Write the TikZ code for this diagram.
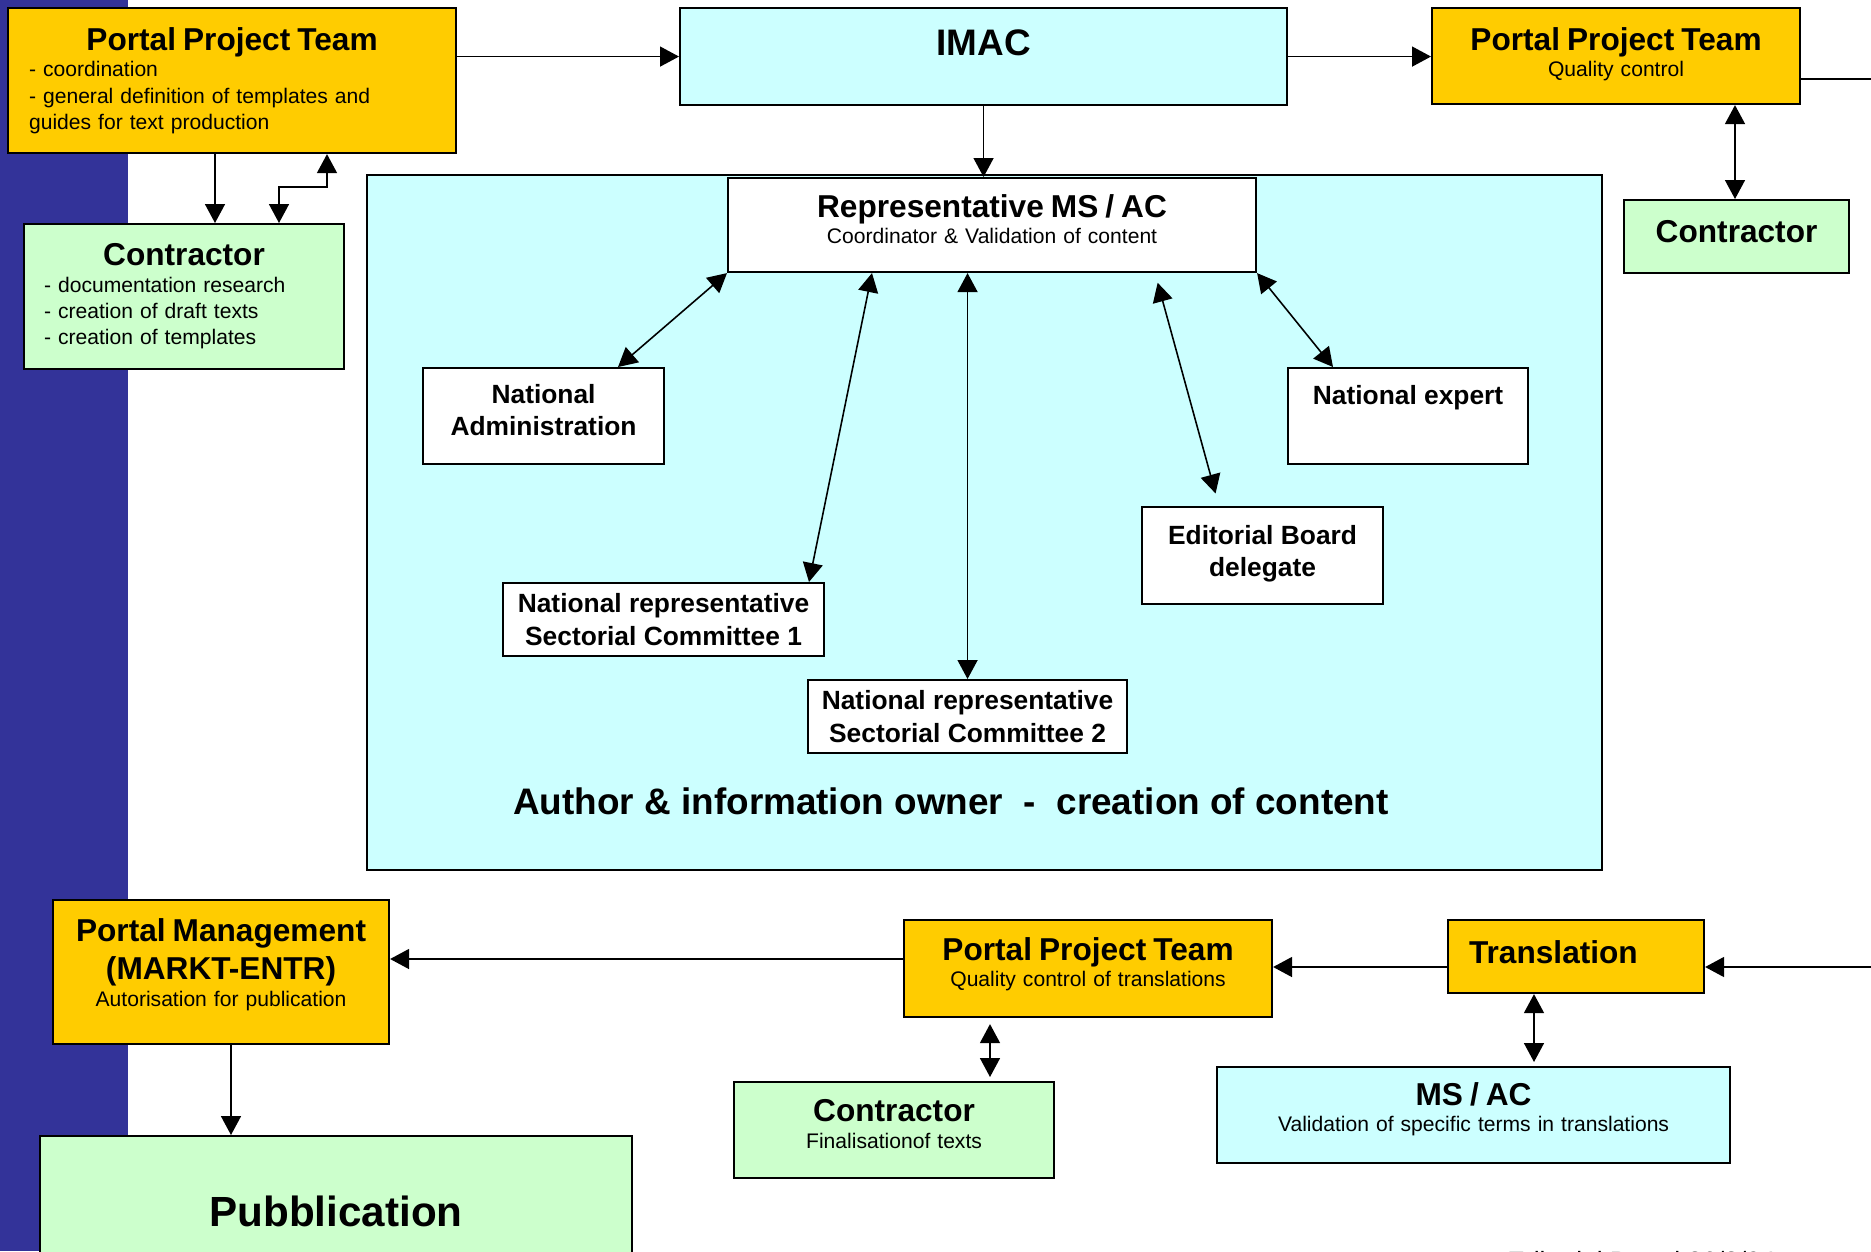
\documentclass[tikz,border=0pt]{standalone}
\usepackage{fontspec}
\setmainfont{Liberation Sans}
\usetikzlibrary{positioning,arrows.meta}

\definecolor{ppyellow}{HTML}{FFCC00}
\definecolor{ppgreen}{HTML}{CCFFCC}
\definecolor{ppcyan}{HTML}{CCFFFF}
\definecolor{ppblue}{HTML}{333399}

\newcommand{\ttl}{\fontsize{9}{10.8}\selectfont\bfseries}
\newcommand{\sml}{\fontsize{6}{7.5}\selectfont}
\newcommand{\inr}{\fontsize{7.5}{9.3}\selectfont\bfseries}
\newcommand{\lo}[1]{\rule[-#1]{0pt}{#1}}

\begin{document}
\begin{tikzpicture}
		[x=0.1mm, y=-0.1mm,
		box/.style={draw, line width=0.6pt, anchor=north west, inner sep=0pt, align=center},
		yellowbox/.style={box, fill=ppyellow},
		greenbox/.style={box, fill=ppgreen},
		cyanbox/.style={box, fill=ppcyan},
		whitebox/.style={box, fill=white, font=\inr},
		arr/.style={line width=0.45pt, -{Triangle[length=1.9mm,width=2mm]}},
		darr/.style={line width=0.45pt, {Triangle[length=1.9mm,width=2mm]}-{Triangle[length=1.9mm,width=2mm]}},
		]
		\useasboundingbox (0,0) rectangle (1871,1251);
		\fill[ppblue] (0,0) rectangle (128,1251);
		
		% content area
		\node[cyanbox, minimum width=123.5mm, minimum height=69.5mm] (area) at (366,174) {};
		\node[font=\fontsize{10.5}{12}\selectfont\bfseries, anchor=base] (owner) at (951,814)
			{Author \& information owner\ \ -\ \ creation of content};
		
		% top row
		\node[yellowbox, minimum width=44.8mm, minimum height=14.5mm, text width=40.6mm, align=left, font=\sml] (ppt1) at (7,7)
			{\makebox[\hsize]{\ttl Portal Project Team}\\- coordination\\- general definition of templates and\\guides for text production};
		\node[greenbox, minimum width=32mm, minimum height=14.5mm, text width=28mm, align=left, font=\sml] (con1) at (23,223)
			{\makebox[\hsize]{\ttl Contractor}\\- documentation research\\- creation of draft texts\\- creation of templates};
		\node[cyanbox, minimum width=60.7mm, minimum height=9.7mm, font=\fontsize{10.5}{12.6}\selectfont\bfseries,
			text height=8pt, text depth=8.8pt] (imac) at (679,7) {IMAC};
		\node[yellowbox, minimum width=36.8mm, minimum height=9.6mm, text width=36mm, font=\sml] (ppt2) at (1431,7)
			{{\ttl Portal Project Team}\\Quality control\lo{2.2pt}};
		\node[greenbox, minimum width=22.5mm, minimum height=7.3mm, font=\ttl, text height=6.5pt, text depth=3.4pt] (con2) at (1623,199)
			{Contractor};
		
		% inside the area
		\node[box, fill=white, minimum width=52.8mm, minimum height=9.4mm, text width=50mm, font=\sml] (rep) at (727,177)
			{{\ttl Representative MS / AC}\\Coordinator \& Validation of content\lo{3.4pt}};
		\node[whitebox, minimum width=24.1mm, minimum height=9.6mm] (natadm) at (422,367) {National\\Administration\lo{3.4pt}};
		\node[whitebox, minimum width=24mm, minimum height=9.6mm, text height=5.6pt, text depth=12.4pt] (natexp) at (1287,367) {National expert};
		\node[whitebox, minimum width=24.1mm, minimum height=9.7mm] (edb) at (1141,506) {Editorial Board\\delegate\lo{2.6pt}};
		\node[whitebox, minimum width=32.1mm, minimum height=7.3mm] (nrsc1) at (502,582) {National representative\\Sectorial Committee 1};
		\node[whitebox, minimum width=31.9mm, minimum height=7.3mm] (nrsc2) at (807,679) {National representative\\Sectorial Committee 2};
		
		% bottom row
		\node[yellowbox, minimum width=33.6mm, minimum height=14.4mm, text width=32mm, font=\sml] (pm) at (52,899)
			{{\ttl Portal Management}\\[1.3pt]{\ttl (MARKT-ENTR)}\\[0.4pt]Autorisation for publication\lo{5.3pt}};
		\node[greenbox, minimum width=59.2mm, minimum height=15.4mm, font=\fontsize{12}{14}\selectfont\bfseries] (pub) at (39,1135)
			{Pubblication\lo{1.2pt}};
		\node[yellowbox, minimum width=36.8mm, minimum height=9.7mm, text width=36mm, font=\sml] (ppt3) at (903,919)
			{{\ttl Portal Project Team}\\Quality control of translations\lo{3.6pt}};
		\node[yellowbox, minimum width=25.6mm, minimum height=7.3mm, text width=21.4mm, align=left, font=\ttl,
			text height=6.6pt, text depth=2.9pt] (trans) at (1447,919) {Translation};
		\node[greenbox, minimum width=32mm, minimum height=9.6mm, text width=30mm, font=\sml] (con3) at (733,1081)
			{{\ttl Contractor}\\Finalisationof texts\lo{3.4pt}};
		\node[cyanbox, minimum width=51.3mm, minimum height=9.6mm, text width=50mm, font=\sml] (msac) at (1216,1066)
			{{\ttl MS / AC}\\Validation of specific terms in translations\lo{4.7pt}};
		
		\node[font=\fontsize{7.5}{9}\selectfont, anchor=base west] (stamp) at (1495,1270) {Editorial Board 26/3/04};
		
		% connectors
		\draw[arr] (ppt1.east |- imac.west) -- (imac.west);
		\draw[arr] (imac.east) -- (imac.east -| ppt2.west);
		\draw[arr] (ppt2.east |- 0,79) -- (1900,79) |- (trans.east |- 0,967);
		\draw[arr] (ppt1.south -| 215,0) -- (con1.north -| 215,0);
		\draw[darr] (con1.north -| 279,0) -- ++(0,-36) -| (ppt1.south -| 327,0);
		\draw[darr] (ppt2.south -| 1735,0) -- (con2.north -| 1735,0);
		\draw[arr] (imac.south) -- (imac.south |- rep.north);
		
		\draw[darr] (rep.south west) -- (natadm.north -| 618,0);
		\draw[darr] (rep.south -| 872,0) -- (nrsc1.north -| 809,0);
		\draw[darr] (rep.south -| nrsc2.north) -- (nrsc2.north);
		\draw[darr, shorten <=1mm, shorten >=1.3mm] (rep.south -| 1155,0) -- (edb.north -| 1219,0);
		\draw[darr] (rep.south east) -- (natexp.north -| 1333,0);
		
		\draw[arr] (trans.west |- 0,967) -- (ppt3.east |- 0,967);
		\draw[arr] (ppt3.west |- 0,959) -- (pm.east |- 0,959);
		\draw[arr] (pm.south -| 231,0) -- (pub.north -| 231,0);
		\draw[darr, shorten <=0.6mm, shorten >=0.4mm] (ppt3.south -| 990,0) -- (con3.north -| 990,0);
		\draw[darr, shorten >=0.4mm] (trans.south -| 1534,0) -- (msac.north -| 1534,0);
		
	\end{tikzpicture}
\end{document}
